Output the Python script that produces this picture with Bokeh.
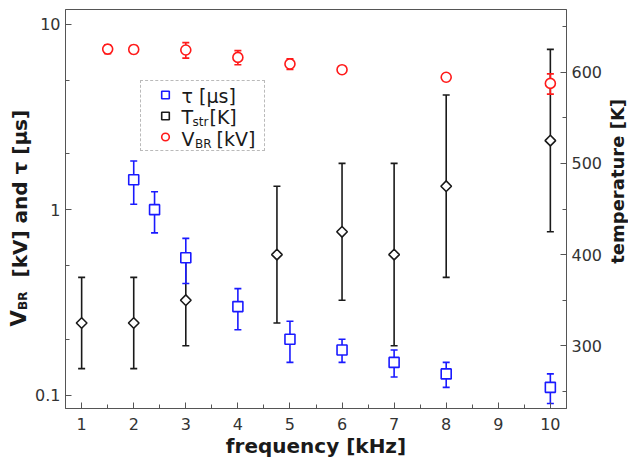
import numpy as np
from bokeh.plotting import figure
from bokeh.layouts import row
from bokeh.models import (Range1d, LinearAxis, LinearScale, FixedTicker, NumeralTickFormatter,
                          Label, Legend, LegendItem, ColumnDataSource)
from bokeh.core.properties import value
from bokeh.embed import file_html
from bokeh.resources import INLINE

# ---------------- data ----------------
freq_tau = [2, 2.4, 3, 4, 5, 6, 7, 8, 10]
tau = [1.45, 1.0, 0.55, 0.30, 0.20, 0.175, 0.15, 0.13, 0.11]
tau_err = [0.38, 0.25, 0.15, 0.075, 0.05, 0.025, 0.025, 0.02, 0.02]

freq_T = [1, 2, 3, 4.75, 6, 7, 8, 10]
T_str = [325, 325, 350, 400, 425, 400, 475, 525]
T_err = [50, 50, 50, 75, 75, 100, 100, 100]

freq_V = [1.5, 2, 3, 4, 5, 6, 8, 10]
V_BR = [7.35, 7.32, 7.27, 6.63, 6.11, 5.69, 5.18, 4.80]
V_err = [0.4, 0.35, 0.7, 0.58, 0.4, 0.2, 0.2, 0.6]

x_ticks = [1, 2, 3, 4, 5, 6, 7, 8, 9, 10]
x_minor = [1.5, 2.5, 3.5, 4.5, 5.5, 6.5, 7.5, 8.5, 9.5]
left_ticks = [0.1, 1, 10]
left_minor = [0.2, 0.5, 2, 5]
right_ticks = [300, 400, 500, 600]
right_minor = [250, 350, 450, 550, 650]

x_title = "frequency [kHz]"
right_title = "temperature [K]"

BLUE = "#1a1aff"
RED = "#ff1a1a"
BLACK = "#1a1a1a"
AXC = "#555555"
FONT = "DejaVu Sans"

LW = 32   # strip holding the left axis title
RW = 23   # strip holding the right axis title
H = 461
BT, BB = 9, 53   # top / bottom borders shared by all panels

# ---------------- main plot ----------------
p = figure(width=628 - LW - RW, height=H, y_axis_type="log",
           x_range=Range1d(0.69, 10.31), y_range=Range1d(0.0846, 12.02),
           output_backend="svg", toolbar_location=None,
           min_border_left=63 - LW, min_border_right=628 - RW - 569,
           min_border_top=BT, min_border_bottom=BB)
p.extra_y_ranges = {"temp": Range1d(231.25, 668.75)}
p.extra_y_scales = {"temp": LinearScale()}
p.grid.visible = False
p.outline_line_color = AXC
p.background_fill_color = "white"
p.border_fill_color = "white"

raxis = LinearAxis(y_range_name="temp")
p.add_layout(raxis, "right")

p.xaxis.ticker = FixedTicker(ticks=x_ticks, minor_ticks=x_minor)
p.yaxis[0].ticker = FixedTicker(ticks=left_ticks, minor_ticks=left_minor)
p.yaxis[0].formatter = NumeralTickFormatter(format="0.[0]")
raxis.ticker = FixedTicker(ticks=right_ticks, minor_ticks=right_minor)

for ax, so in [(p.xaxis[0], 9), (p.yaxis[0], 5), (raxis, 5)]:
    ax.axis_line_color = AXC
    ax.major_tick_line_color = AXC
    ax.minor_tick_line_color = AXC
    ax.major_tick_in = 6
    ax.major_tick_out = 0
    ax.minor_tick_in = 4
    ax.minor_tick_out = 0
    ax.major_label_text_font = FONT
    ax.major_label_text_font_size = "16px"
    ax.major_label_text_color = "#333333"
    ax.major_label_standoff = so
    ax.axis_label_text_font = FONT
    ax.axis_label_text_font_style = "bold"
    ax.axis_label_text_color = BLACK

p.yaxis[0].axis_label = None
raxis.axis_label = None
p.xaxis[0].axis_label = x_title
p.xaxis[0].axis_label_text_font_size = "20px"
p.xaxis[0].axis_label_standoff = 1


def err_src(x, y, e):
    return ColumnDataSource(dict(x=x, y=y,
                                 lo=[a - b for a, b in zip(y, e)],
                                 hi=[a + b for a, b in zip(y, e)]))


src_tau = err_src(freq_tau, tau, tau_err)
src_T = err_src(freq_T, T_str, T_err)
src_V = err_src(freq_V, V_BR, V_err)


def errorbars(src, color, **kw):
    p.segment(x0="x", y0="lo", x1="x", y1="hi", source=src,
              line_color=color, line_width=1.6, **kw)
    for col in ("lo", "hi"):
        p.scatter(x="x", y=col, source=src, marker="dash", size=7,
                  line_color=color, line_width=1.6, **kw)


errorbars(src_T, BLACK, y_range_name="temp")
errorbars(src_tau, BLUE)
errorbars(src_V, RED)

r_tau = p.scatter(x="x", y="y", source=src_tau, marker="square", size=10,
                  line_color=BLUE, fill_color="white", line_width=1.6)
r_T = p.scatter(x="x", y="y", source=src_T, marker="square", angle=np.pi / 4,
                size=7.5, line_color=BLACK, fill_color="white", line_width=1.6,
                y_range_name="temp")
r_V = p.scatter(x="x", y="y", source=src_V, marker="circle", size=10,
                line_color=RED, fill_color="white", line_width=1.6)

legend = Legend(items=[LegendItem(label=value(""), renderers=[r_tau]),
                       LegendItem(label=value(""), renderers=[r_T]),
                       LegendItem(label=value(""), renderers=[r_V])],
                location=(75, 257), padding=4, spacing=2, margin=0,
                glyph_width=40, glyph_height=19, label_height=19, label_width=70,
                label_standoff=5, border_line_color="#777777",
                border_line_dash="dotted", border_line_width=1,
                background_fill_alpha=0.0)
p.add_layout(legend)


def lab(fig, x, y, text, size, bold=False, angle=0.0):
    # (x, y) is the centre line of the text box
    fig.add_layout(Label(x=x, y=y, x_units="screen", y_units="screen", text=text,
                         text_font=FONT, text_font_size=size,
                         text_font_style="bold" if bold else "normal",
                         text_color=BLACK, text_align="left",
                         text_baseline="middle", angle=angle, level="overlay"))


# legend texts (with subscripts)
lab(p, 116, 312.3, "τ [μs]", "19px")
lab(p, 116, 291.3, "T", "19px")
lab(p, 127, 286.2, "str", "12px")
lab(p, 144, 291.3, "[K]", "19px")
lab(p, 116, 269.9, "V", "19px")
lab(p, 129.5, 264.7, "BR", "12px")
lab(p, 151, 269.9, "[kV]", "19px")


def strip(width):
    # same top/bottom borders as the main plot, so its frame lines up with it
    f = figure(width=width, height=H, x_range=Range1d(0, width), y_range=Range1d(0, H - BT - BB),
               x_axis_location=None, y_axis_location=None,
               min_border_left=0, min_border_right=0,
               min_border_top=BT, min_border_bottom=BB,
               output_backend="svg", toolbar_location=None)
    f.grid.visible = False
    f.outline_line_color = None
    f.background_fill_color = "white"
    f.border_fill_color = "white"
    return f


A = np.pi / 2
FB = H - BB  # page y of the frame bottom
# left strip: rotated left-axis title with subscript
q = strip(LW)
lab(q, 18.7, FB - 326, "V", "21px", bold=True, angle=A)
lab(q, 22.8, FB - 309.5, "BR", "12px", bold=True, angle=A)
lab(q, 19.1, FB - 277, "[kV] and τ [μs]", "20px", bold=True, angle=A)

# right strip: rotated right-axis title
r = strip(RW)
lab(r, 12.3, FB - 263.3, right_title, "18px", bold=True, angle=A)

layout = row(q, p, r, spacing=0)
open("out.html", "w").write(file_html(layout, INLINE))
